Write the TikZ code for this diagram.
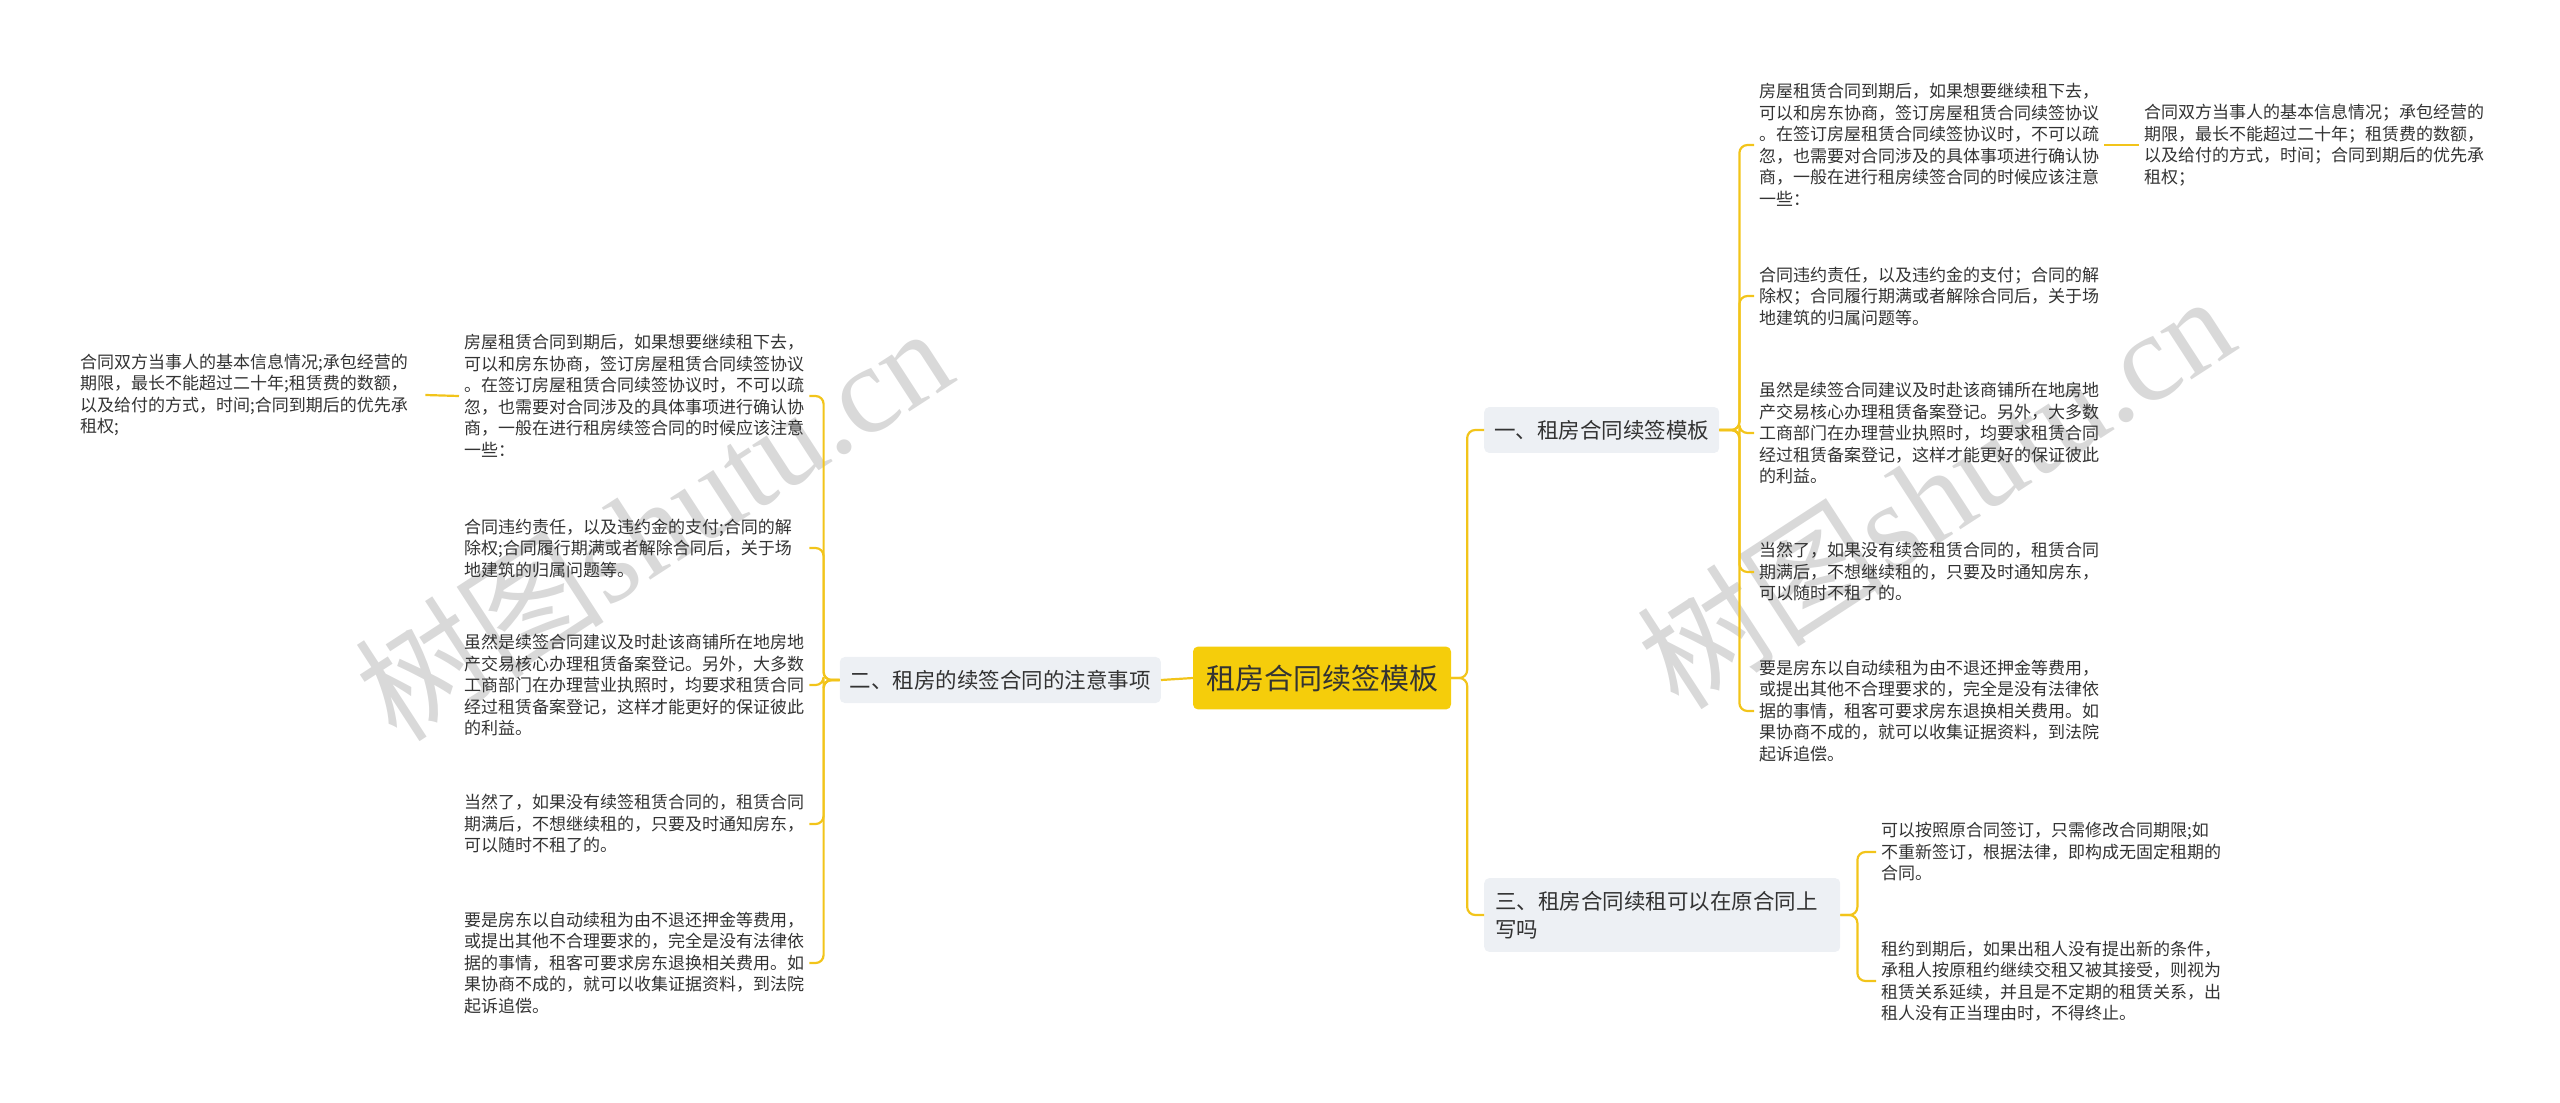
\documentclass[tikz,border=0pt]{standalone}
\usepackage{fontspec}
\setmainfont{Noto Sans CJK SC}
\newfontfamily\wmlatin{Liberation Serif}
\definecolor{linegold}{HTML}{F2C41A}
\definecolor{rootgold}{HTML}{F5CD0B}
\definecolor{branchgray}{HTML}{EDF0F4}
\definecolor{inkgray}{HTML}{333333}
\definecolor{wmgray}{HTML}{D9D9D9}

\begin{document}
\begin{tikzpicture}[x=1pt, y=-1pt,
    every node/.style={text=inkgray, inner sep=0pt},
    rootbox/.style={fill=rootgold, rounded corners=5pt, inner xsep=13pt, inner ysep=18pt, font=\fontsize{29}{34}\selectfont},
    branchbox/.style={fill=branchgray, rounded corners=5pt, inner xsep=10pt, inner ysep=13pt, align=left, font=\fontsize{21.5}{28}\selectfont},
    leafbox/.style={text width=340pt, align=left, inner xsep=5pt, inner ysep=3pt, font=\fontsize{17}{21.5}\selectfont},
    link/.style={draw=linegold, line width=2.2pt, rounded corners=8pt},
    wmark/.style={text=wmgray, rotate=33, font=\fontsize{125}{125}\selectfont}]
    \useasboundingbox (0,0) rectangle (2560,1103);
    % watermarks
    \node[wmark] (wmleft) at (653,522) {树图{\wmlatin shutu.cn}};
    \node[wmark] (wmright) at (1935,490) {树图{\wmlatin shutu.cn}};
    % centre and branches
    \node[rootbox] (root) at (1322,678) {租房合同续签模板};
    \node[branchbox, anchor=west] (b1) at (1484,430) {一、租房合同续签模板};
    \node[branchbox, anchor=east] (b2) at (1161,680) {二、租房的续签合同的注意事项};
    \node[branchbox, anchor=west, text width=334pt, inner xsep=11pt] (b3) at (1484,915) {三、租房合同续租可以在原合同上\\写吗};
    % leaves of b2
    \node[leafbox, anchor=west] (l1) at (459,396) {房屋租赁合同到期后，如果想要继续租下去，\\可以和房东协商，签订房屋租赁合同续签协议\\。在签订房屋租赁合同续签协议时，不可以疏\\忽，也需要对合同涉及的具体事项进行确认协\\商，一般在进行租房续签合同的时候应该注意\\一些：};
    \node[leafbox, anchor=west] (l2) at (459,548) {合同违约责任，以及违约金的支付;合同的解\\除权;合同履行期满或者解除合同后，关于场\\地建筑的归属问题等。};
    \node[leafbox, anchor=west] (l3) at (459,685) {虽然是续签合同建议及时赴该商铺所在地房地\\产交易核心办理租赁备案登记。另外，大多数\\工商部门在办理营业执照时，均要求租赁合同\\经过租赁备案登记，这样才能更好的保证彼此\\的利益。};
    \node[leafbox, anchor=west] (l4) at (459,824) {当然了，如果没有续签租赁合同的，租赁合同\\期满后，不想继续租的，只要及时通知房东，\\可以随时不租了的。};
    \node[leafbox, anchor=west] (l5) at (459,963) {要是房东以自动续租为由不退还押金等费用，\\或提出其他不合理要求的，完全是没有法律依\\据的事情，租客可要求房东退换相关费用。如\\果协商不成的，就可以收集证据资料，到法院\\起诉追偿。};
    \node[leafbox, anchor=west] (l0) at (75,395) {合同双方当事人的基本信息情况;承包经营的\\期限，最长不能超过二十年;租赁费的数额，\\以及给付的方式，时间;合同到期后的优先承\\租权;};
    % leaves of b1
    \node[leafbox, anchor=west] (r1) at (1754,145) {房屋租赁合同到期后，如果想要继续租下去，\\可以和房东协商，签订房屋租赁合同续签协议\\。在签订房屋租赁合同续签协议时，不可以疏\\忽，也需要对合同涉及的具体事项进行确认协\\商，一般在进行租房续签合同的时候应该注意\\一些：};
    \node[leafbox, anchor=west] (r2) at (1754,296) {合同违约责任，以及违约金的支付；合同的解\\除权；合同履行期满或者解除合同后，关于场\\地建筑的归属问题等。};
    \node[leafbox, anchor=west] (r3) at (1754,433) {虽然是续签合同建议及时赴该商铺所在地房地\\产交易核心办理租赁备案登记。另外，大多数\\工商部门在办理营业执照时，均要求租赁合同\\经过租赁备案登记，这样才能更好的保证彼此\\的利益。};
    \node[leafbox, anchor=west] (r4) at (1754,572) {当然了，如果没有续签租赁合同的，租赁合同\\期满后，不想继续租的，只要及时通知房东，\\可以随时不租了的。};
    \node[leafbox, anchor=west] (r5) at (1754,711) {要是房东以自动续租为由不退还押金等费用，\\或提出其他不合理要求的，完全是没有法律依\\据的事情，租客可要求房东退换相关费用。如\\果协商不成的，就可以收集证据资料，到法院\\起诉追偿。};
    \node[leafbox, anchor=west] (r0) at (2139,145) {合同双方当事人的基本信息情况；承包经营的\\期限，最长不能超过二十年；租赁费的数额，\\以及给付的方式，时间；合同到期后的优先承\\租权；};
    % leaves of b3
    \node[leafbox, anchor=west] (t1) at (1876,852) {可以按照原合同签订，只需修改合同期限;如\\不重新签订，根据法律，即构成无固定租期的\\合同。};
    \node[leafbox, anchor=west] (t2) at (1876,981) {租约到期后，如果出租人没有提出新的条件，\\承租人按原租约继续交租又被其接受，则视为\\租赁关系延续，并且是不定期的租赁关系，出\\租人没有正当理由时，不得终止。};
    % connectors
    \draw[link] (root.west) -- (b2.east);
    \draw[link] (root.east) -- ++(16,0) |- (b1.west);
    \draw[link] (root.east) -- ++(16,0) |- (b3.west);
    \draw[link] (b2.west) -- ++(-16,0) |- (l1.east);
    \draw[link] (b2.west) -- ++(-16,0) |- (l2.east);
    \draw[link] (b2.west) -- ++(-16,0) |- (l3.east);
    \draw[link] (b2.west) -- ++(-16,0) |- (l4.east);
    \draw[link] (b2.west) -- ++(-16,0) |- (l5.east);
    \draw[link] (l1.west) -- (l0.east);
    \draw[link] (b1.east) -- ++(20,0) |- (r1.west);
    \draw[link] (b1.east) -- ++(20,0) |- (r2.west);
    \draw[link] (b1.east) -- ++(20,0) |- (r3.west);
    \draw[link] (b1.east) -- ++(20,0) |- (r4.west);
    \draw[link] (b1.east) -- ++(20,0) |- (r5.west);
    \draw[link] (r1.east) -- (r0.west);
    \draw[link] (b3.east) -- ++(17,0) |- (t1.west);
    \draw[link] (b3.east) -- ++(17,0) |- (t2.west);
\end{tikzpicture}
\end{document}
